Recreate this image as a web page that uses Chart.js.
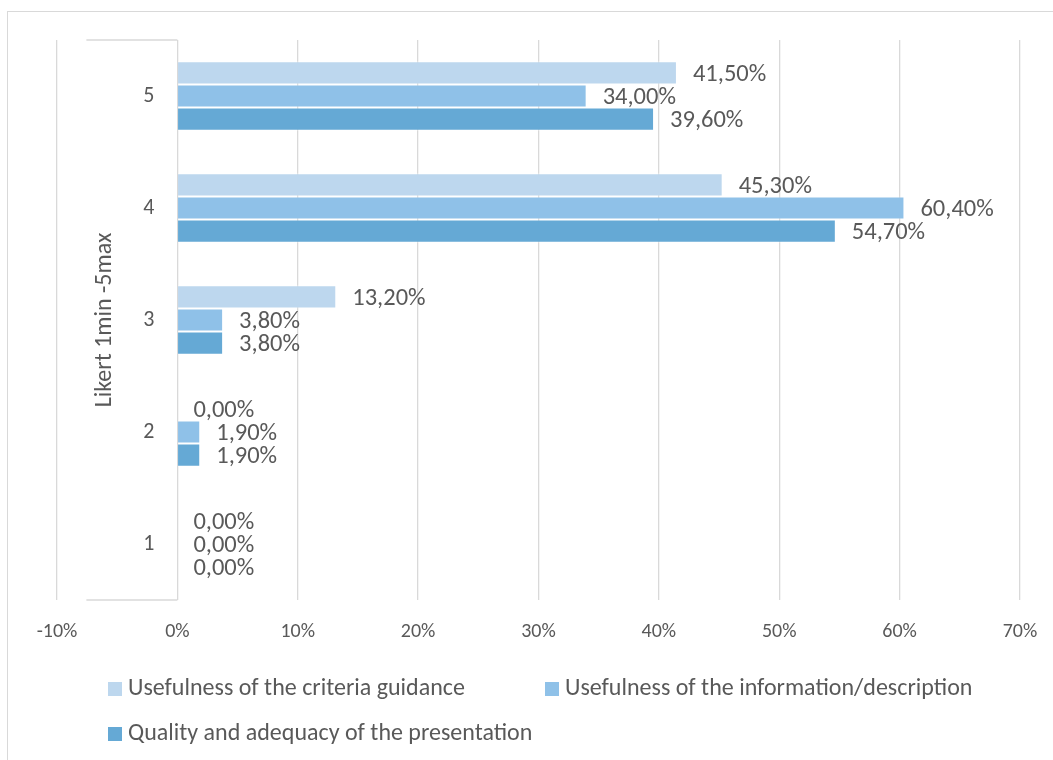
<!DOCTYPE html>
<html>
<head>
<meta charset="utf-8">
<script src="https://cdn.jsdelivr.net/npm/chart.js@4.4.1/dist/chart.umd.min.js"></script>
<style>
  html, body { margin: 0; padding: 0; background: #ffffff; overflow: hidden; }
  #frame { position: absolute; left: 7px; top: 11px; width: 1100px; height: 800px; border: 1px solid #d9d9d9; }
  #chart { position: absolute; left: 0; top: 0; }
</style>
</head>
<body>
<div id="frame"></div>
<canvas id="chart" width="1053" height="760"></canvas>
<script>
// Likert answers (share of respondents, %)
const likertLevels = ['5', '4', '3', '2', '1'];
const criteriaGuidance = [41.5, 45.3, 13.2, 0.0, 0.0];
const infoDescription = [34.0, 60.4, 3.8, 1.9, 0.0];
const presentationQuality = [39.6, 54.7, 3.8, 1.9, 0.0];
const seriesNames = [
  'Usefulness of the criteria guidance',
  'Usefulness of the information/description',
  'Quality and adequacy of the presentation'
];
const axisTitle = 'Likert 1min -5max';
const xMin = -10, xMax = 70, xStep = 10;

const TEXT = '#595959';
const GRID = '#d9d9d9';
const FONT = 'Carlito, Lato, sans-serif';
const colors = ['#bdd7ee', '#8fc1e8', '#65a9d5'];

const fmtPct = v => v.toFixed(2).replace('.', ',') + '%';

// Value labels to the right of each bar end
const valueLabels = {
  id: 'valueLabels',
  afterDatasetsDraw(chart) {
    const ctx = chart.ctx;
    ctx.save();
    ctx.font = '24.5px ' + FONT;
    ctx.fillStyle = TEXT;
    ctx.textAlign = 'left';
    ctx.textBaseline = 'middle';
    chart.data.datasets.forEach((ds, i) => {
      chart.getDatasetMeta(i).data.forEach((bar, j) => {
        ctx.fillText(fmtPct(ds.data[j]), bar.x + 16, bar.y + 2);
      });
    });
    ctx.restore();
  }
};

// Category label panel (top/bottom rules), rotated axis title and a two-column legend
const decorations = {
  id: 'decorations',
  afterDraw(chart) {
    const ctx = chart.ctx;
    const area = chart.chartArea;
    const zero = chart.scales.x.getPixelForValue(0);
    ctx.save();
    ctx.strokeStyle = GRID;
    ctx.lineWidth = 1.3;
    ctx.beginPath();
    ctx.moveTo(zero - 91, area.top); ctx.lineTo(zero, area.top);
    ctx.moveTo(zero - 91, area.bottom); ctx.lineTo(zero, area.bottom);
    ctx.stroke();

    ctx.fillStyle = TEXT;
    ctx.font = '24px ' + FONT;
    ctx.translate(105, (area.top + area.bottom) / 2);
    ctx.rotate(-Math.PI / 2);
    ctx.textAlign = 'center';
    ctx.textBaseline = 'middle';
    ctx.fillText(axisTitle, 0, 0);
    ctx.restore();

    ctx.save();
    ctx.font = '24px ' + FONT;
    ctx.textAlign = 'left';
    ctx.textBaseline = 'middle';
    chart.data.datasets.forEach((ds, i) => {
      const x = 108 + (i % 2) * 437;
      const y = 689 + Math.floor(i / 2) * 45;
      ctx.fillStyle = ds.backgroundColor;
      ctx.fillRect(x, y - 7, 14, 14);
      ctx.fillStyle = TEXT;
      ctx.fillText(ds.label, x + 20, y);
    });
    ctx.restore();
  }
};

const series = [criteriaGuidance, infoDescription, presentationQuality];

new Chart(document.getElementById('chart'), {
  type: 'bar',
  data: {
    labels: likertLevels,
    datasets: series.map((d, i) => ({
      label: seriesNames[i],
      data: d,
      backgroundColor: colors[i],
      borderColor: 'rgba(255,255,255,0.45)',
      borderWidth: 1,
      categoryPercentage: 0.62,
      barPercentage: 1.0
    }))
  },
  options: {
    indexAxis: 'y',
    responsive: false,
    animation: false,
    devicePixelRatio: 1,
    layout: { padding: { left: 57, right: 33, top: 40, bottom: 113 } },
    plugins: {
      legend: { display: false },
      tooltip: { enabled: false }
    },
    scales: {
      x: {
        min: xMin,
        max: xMax,
        grid: { color: GRID, lineWidth: 1.3, drawTicks: true, tickLength: 17, tickColor: 'rgba(0,0,0,0)' },
        border: { display: false },
        ticks: {
          stepSize: xStep,
          padding: 3,
          color: TEXT,
          font: { family: FONT, size: 20 },
          callback: v => v + '%'
        }
      },
      y: {
        position: { x: -1.9 },
        afterFit: s => { s.width = 0; },
        grid: { display: false },
        border: { display: false },
        ticks: {
          color: TEXT,
          font: { family: FONT, size: 22 }
        }
      }
    }
  },
  plugins: [valueLabels, decorations]
});
</script>
</body>
</html>
